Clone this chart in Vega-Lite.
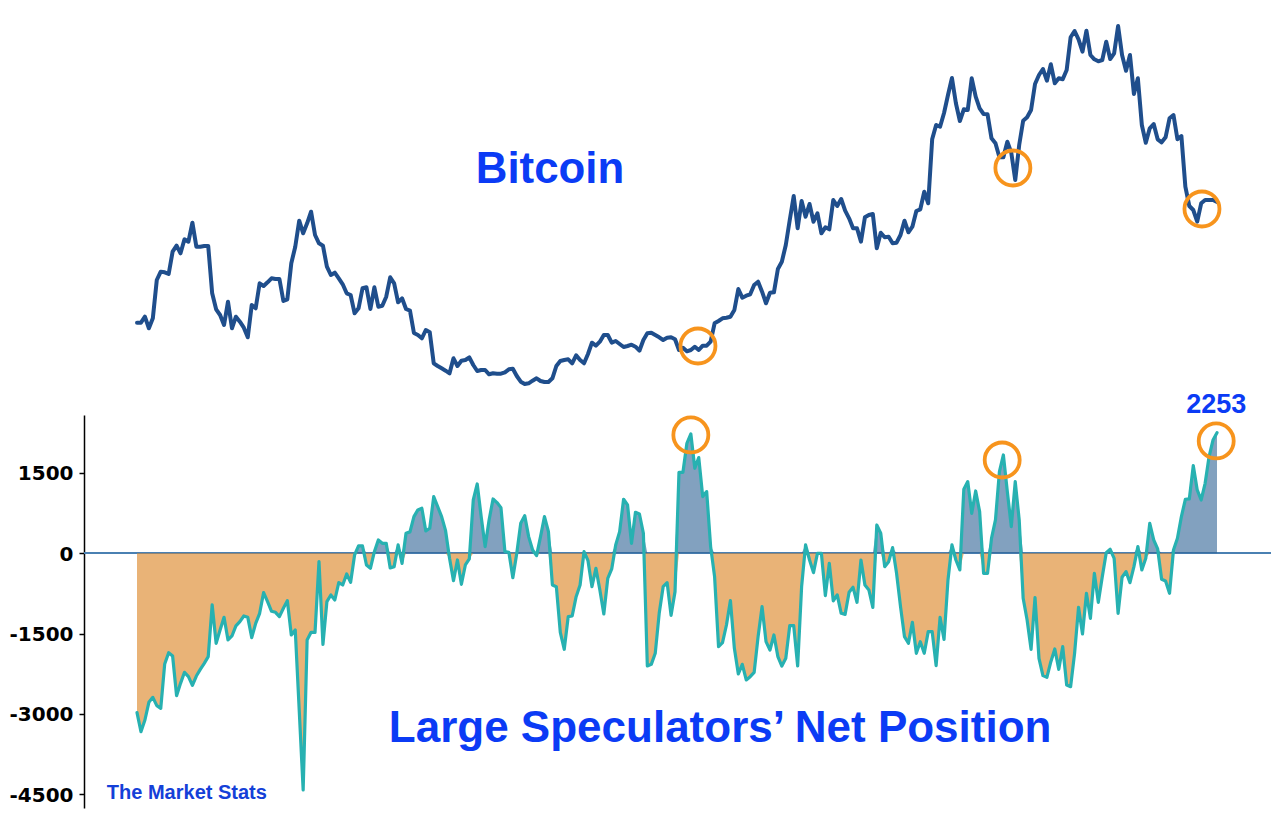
{"$schema":"https://vega.github.io/schema/vega-lite/v6.json","width":1187,"height":817,"autosize":{"type":"none"},"padding":{"left":84,"right":9,"top":0,"bottom":0},"background":"white","view":{"stroke":null},
"datasets":{"weeks":[
{"w":0,"btc":92.3,"net":-2976},{"w":1,"btc":92.3,"net":-3331},{"w":2,"btc":98.3,"net":-3113},{"w":3,"btc":86.7,"net":-2783},{"w":4,"btc":96.7,"net":-2690},{"w":5,"btc":135,"net":-2846},{"w":6,"btc":143.3,"net":-2895},{"w":7,"btc":142.7,"net":-2067},{"w":8,"btc":141,"net":-1856},{"w":9,"btc":163.3,"net":-1918},
{"w":10,"btc":169.3,"net":-2659},{"w":11,"btc":161.7,"net":-2429},{"w":12,"btc":175.7,"net":-2223},{"w":13,"btc":173.3,"net":-2304},{"w":14,"btc":192.3,"net":-2466},{"w":15,"btc":168.3,"net":-2292},{"w":16,"btc":168.3,"net":-2167},{"w":17,"btc":169,"net":-2055},{"w":18,"btc":169,"net":-1930},{"w":19,"btc":121.7,"net":-965},
{"w":20,"btc":105.7,"net":-1681},{"w":21,"btc":100,"net":-1432},{"w":22,"btc":90,"net":-1196},{"w":23,"btc":113.3,"net":-1619},{"w":24,"btc":86.7,"net":-1544},{"w":25,"btc":98.3,"net":-1357},{"w":26,"btc":93.3,"net":-1277},{"w":27,"btc":87.3,"net":-1171},{"w":28,"btc":77.7,"net":-1196},{"w":29,"btc":110,"net":-1575},
{"w":30,"btc":106.7,"net":-1308},{"w":31,"btc":131.7,"net":-1121},{"w":32,"btc":129,"net":-735},{"w":33,"btc":132.7,"net":-903},{"w":34,"btc":136.7,"net":-1083},{"w":35,"btc":136,"net":-1102},{"w":36,"btc":136,"net":-1183},{"w":37,"btc":114,"net":-1027},{"w":38,"btc":115.7,"net":-884},{"w":39,"btc":151.7,"net":-1526},
{"w":40,"btc":168.3,"net":-1432},{"w":41,"btc":194.3,"net":-2927},{"w":42,"btc":181.7,"net":-4421},{"w":43,"btc":191.7,"net":-1619},{"w":44,"btc":203.3,"net":-1476},{"w":45,"btc":180,"net":-1476},{"w":46,"btc":171.7,"net":-156},{"w":47,"btc":169.3,"net":-1700},{"w":48,"btc":148.3,"net":-903},{"w":49,"btc":140,"net":-778},
{"w":50,"btc":142.3,"net":-872},{"w":51,"btc":136.7,"net":-548},{"w":52,"btc":130.7,"net":-592},{"w":53,"btc":121.7,"net":-386},{"w":54,"btc":120,"net":-542},{"w":55,"btc":101.7,"net":-31},{"w":56,"btc":106.7,"net":137},{"w":57,"btc":126.7,"net":137},{"w":58,"btc":127.7,"net":-218},{"w":59,"btc":106,"net":-280},
{"w":60,"btc":127.7,"net":31},{"w":61,"btc":108.3,"net":249},{"w":62,"btc":109.3,"net":187},{"w":63,"btc":118.3,"net":187},{"w":64,"btc":137.7,"net":-274},{"w":65,"btc":131.7,"net":-249},{"w":66,"btc":112.7,"net":156},{"w":67,"btc":116.7,"net":-187},{"w":68,"btc":106,"net":374},{"w":69,"btc":104.3,"net":400},
{"w":70,"btc":82,"net":685},{"w":71,"btc":80,"net":810},{"w":72,"btc":76.7,"net":841},{"w":73,"btc":85,"net":417},{"w":74,"btc":82.7,"net":467},{"w":75,"btc":51.7,"net":1059},{"w":76,"btc":49,"net":872},{"w":77,"btc":46.7,"net":685},{"w":78,"btc":44.3,"net":423},{"w":79,"btc":41.7,"net":-93},
{"w":80,"btc":56.7,"net":-511},{"w":81,"btc":49,"net":-125},{"w":82,"btc":54.3,"net":-579},{"w":83,"btc":55,"net":-218},{"w":84,"btc":57.7,"net":-106},{"w":85,"btc":50,"net":996},{"w":86,"btc":44,"net":1295},{"w":87,"btc":45,"net":685},{"w":88,"btc":45,"net":125},{"w":89,"btc":40.7,"net":623},
{"w":90,"btc":41.7,"net":1015},{"w":91,"btc":41.3,"net":947},{"w":92,"btc":41.3,"net":853},{"w":93,"btc":42.7,"net":31},{"w":94,"btc":45.7,"net":19},{"w":95,"btc":46.3,"net":-455},{"w":96,"btc":39,"net":0},{"w":97,"btc":33.3,"net":560},{"w":98,"btc":31,"net":704},{"w":99,"btc":31.7,"net":311},
{"w":100,"btc":34.3,"net":62},{"w":101,"btc":36.7,"net":-44},{"w":102,"btc":34,"net":311},{"w":103,"btc":33,"net":685},{"w":104,"btc":33,"net":405},{"w":105,"btc":36.7,"net":-592},{"w":106,"btc":49,"net":-623},{"w":107,"btc":54,"net":-1476},{"w":108,"btc":55,"net":-1793},{"w":109,"btc":55.7,"net":-1183},
{"w":110,"btc":51.7,"net":-1171},{"w":111,"btc":59.7,"net":-810},{"w":112,"btc":55,"net":-592},{"w":113,"btc":51.7,"net":31},{"w":114,"btc":61,"net":-137},{"w":115,"btc":72.3,"net":-623},{"w":116,"btc":69.3,"net":-280},{"w":117,"btc":73.3,"net":-685},{"w":118,"btc":80,"net":-1133},{"w":119,"btc":80,"net":-467},
{"w":120,"btc":72.3,"net":-293},{"w":121,"btc":74,"net":156},{"w":122,"btc":71,"net":405},{"w":123,"btc":68,"net":1009},{"w":124,"btc":69,"net":903},{"w":125,"btc":70.3,"net":187},{"w":126,"btc":68.3,"net":766},{"w":127,"btc":64.3,"net":735},{"w":128,"btc":75,"net":374},{"w":129,"btc":81.7,"net":-2104},
{"w":130,"btc":82.3,"net":-2074},{"w":131,"btc":80,"net":-1868},{"w":132,"btc":77.7,"net":-1121},{"w":133,"btc":75,"net":-623},{"w":134,"btc":77.3,"net":-548},{"w":135,"btc":77.7,"net":-1158},{"w":136,"btc":75.7,"net":-716},{"w":137,"btc":65,"net":1513},{"w":138,"btc":67.3,"net":1513},{"w":139,"btc":63.7,"net":2055},
{"w":140,"btc":65,"net":2229},{"w":141,"btc":68.3,"net":1588},{"w":142,"btc":65,"net":1787},{"w":143,"btc":69.3,"net":1059},{"w":144,"btc":69.3,"net":1152},{"w":145,"btc":73.3,"net":125},{"w":146,"btc":91.7,"net":-436},{"w":147,"btc":94,"net":-1744},{"w":148,"btc":96.7,"net":-1669},{"w":149,"btc":97.3,"net":-1339},
{"w":150,"btc":98.3,"net":-884},{"w":151,"btc":105,"net":-1775},{"w":152,"btc":126,"net":-2254},{"w":153,"btc":117.3,"net":-2074},{"w":154,"btc":119.3,"net":-2366},{"w":155,"btc":120.7,"net":-2304},{"w":156,"btc":130,"net":-2223},{"w":157,"btc":133.3,"net":-1557},{"w":158,"btc":123.3,"net":-996},{"w":159,"btc":111.7,"net":-1650},
{"w":160,"btc":122.3,"net":-1806},{"w":161,"btc":122.7,"net":-1526},{"w":162,"btc":146,"net":-1930},{"w":163,"btc":153.3,"net":-2105},{"w":164,"btc":170,"net":-1961},{"w":165,"btc":195,"net":-1351},{"w":166,"btc":219,"net":-1351},{"w":167,"btc":186.7,"net":-2105},{"w":168,"btc":214,"net":-623},{"w":169,"btc":198.3,"net":156},
{"w":170,"btc":211,"net":-125},{"w":171,"btc":193.3,"net":-361},{"w":172,"btc":201.7,"net":0},{"w":173,"btc":181.7,"net":0},{"w":174,"btc":187.7,"net":-791},{"w":175,"btc":185.7,"net":-187},{"w":176,"btc":215,"net":-890},{"w":177,"btc":209,"net":-778},{"w":178,"btc":216,"net":-1121},{"w":179,"btc":204.3,"net":-1140},
{"w":180,"btc":196.7,"net":-729},{"w":181,"btc":186.7,"net":-635},{"w":182,"btc":186.7,"net":-915},{"w":183,"btc":173.3,"net":-125},{"w":184,"btc":197.7,"net":-592},{"w":185,"btc":200,"net":-685},{"w":186,"btc":201,"net":-1009},{"w":187,"btc":166.7,"net":529},{"w":188,"btc":182.3,"net":374},{"w":189,"btc":177.7,"net":-249},
{"w":190,"btc":178.3,"net":-156},{"w":191,"btc":171.7,"net":106},{"w":192,"btc":172.3,"net":-374},{"w":193,"btc":180,"net":-996},{"w":194,"btc":194.3,"net":-1557},{"w":195,"btc":182.7,"net":-1681},{"w":196,"btc":188.3,"net":-1289},{"w":197,"btc":204,"net":-1868},{"w":198,"btc":205.7,"net":-1650},{"w":199,"btc":223.3,"net":-1868},
{"w":200,"btc":211.7,"net":-1463},{"w":201,"btc":275.7,"net":-1463},{"w":202,"btc":290,"net":-2098},{"w":203,"btc":288.3,"net":-1196},{"w":204,"btc":302,"net":-1607},{"w":205,"btc":320,"net":-498},{"w":206,"btc":337,"net":156},{"w":207,"btc":311.7,"net":-125},{"w":208,"btc":294,"net":-311},{"w":209,"btc":305.7,"net":1196},
{"w":210,"btc":305,"net":1339},{"w":211,"btc":336.7,"net":747},{"w":212,"btc":318.3,"net":1164},{"w":213,"btc":306.7,"net":778},{"w":214,"btc":301,"net":-374},{"w":215,"btc":300.7,"net":-374},{"w":216,"btc":276.7,"net":280},{"w":217,"btc":271.7,"net":623},{"w":218,"btc":257.7,"net":1526},{"w":219,"btc":257.7,"net":1837},
{"w":220,"btc":273.3,"net":1152},{"w":221,"btc":262.3,"net":498},{"w":222,"btc":235,"net":1339},{"w":223,"btc":270,"net":623},{"w":224,"btc":294.3,"net":-841},{"w":225,"btc":297.7,"net":-1245},{"w":226,"btc":305,"net":-1793},{"w":227,"btc":331,"net":-828},{"w":228,"btc":340,"net":-1961},{"w":229,"btc":346,"net":-2285},
{"w":230,"btc":334.3,"net":-2316},{"w":231,"btc":350.7,"net":-2024},{"w":232,"btc":331.7,"net":-1787},{"w":233,"btc":336.7,"net":-2167},{"w":234,"btc":335.7,"net":-1744},{"w":235,"btc":345,"net":-2460},{"w":236,"btc":377.7,"net":-2491},{"w":237,"btc":384,"net":-1868},{"w":238,"btc":375.7,"net":-1009},{"w":239,"btc":363.3,"net":-1507},
{"w":240,"btc":384.3,"net":-747},{"w":241,"btc":360,"net":-1214},{"w":242,"btc":355.7,"net":-374},{"w":243,"btc":353.7,"net":-915},{"w":244,"btc":355,"net":-436},{"w":245,"btc":373.3,"net":12},{"w":246,"btc":356,"net":75},{"w":247,"btc":361.7,"net":-93},{"w":248,"btc":389,"net":-1121},{"w":249,"btc":360,"net":-448},
{"w":250,"btc":344.3,"net":-342},{"w":251,"btc":360,"net":-548},{"w":252,"btc":321,"net":-249},{"w":253,"btc":336.7,"net":125},{"w":254,"btc":290,"net":-311},{"w":255,"btc":272.3,"net":-93},{"w":256,"btc":286.7,"net":560},{"w":257,"btc":291,"net":249},{"w":258,"btc":275.7,"net":81},{"w":259,"btc":272.7,"net":-486},
{"w":260,"btc":277.7,"net":-517},{"w":261,"btc":296.7,"net":-747},{"w":262,"btc":300,"net":62},{"w":263,"btc":275.7,"net":280},{"w":264,"btc":279,"net":685},{"w":265,"btc":228.3,"net":1009},{"w":266,"btc":209,"net":1015},{"w":267,"btc":205,"net":1638},{"w":268,"btc":193.3,"net":1183},{"w":269,"btc":211.7,"net":996},
{"w":270,"btc":215,"net":1308},{"w":271,"btc":215,"net":1806},{"w":272,"btc":215,"net":2117},{"w":273,"btc":213,"net":2253}
],
"btcCircles":[{"w":141.8,"btc":69},{"w":221.4,"btc":247},{"w":269.2,"btc":206}],
"netCircles":[{"w":140,"net":2210},{"w":218.7,"net":1743},{"w":272.8,"net":2098}],
"btcLabel":[{"w":104.4,"btc":245,"label":"Bitcoin"}],
"netLabels":[{"w":147.4,"net":-3285,"label":"Large Speculators’ Net Position","size":44,"color":"#0B3BF5"},{"w":12.6,"net":-4478,"label":"The Market Stats","size":20,"color":"#1440D8"},{"w":272.8,"net":2770,"label":"2253","size":27,"color":"#0B3BF5"}]},
"layer":[
{"data":{"name":"weeks"},"mark":{"type":"rule","color":"#4A80B2","strokeWidth":1.6},"encoding":{"y":{"datum":0,"type":"quantitative","scale":{"domain":[-4757,2583],"range":[808,415],"nice":false,"zero":false},"axis":{"title":null,"values":[1500,0,-1500,-3000,-4500],"labelExpr":"datum.value + ''","grid":false,"domainColor":"#000000","domainWidth":1.5,"tickColor":"#000000","tickWidth":1.5,"tickSize":5,"labelFont":"DejaVu Sans","labelFontWeight":"bold","labelFontSize":20,"labelColor":"#000000","labelPadding":6,"labelOffset":1}}}},
{"data":{"name":"weeks"},"mark":{"type":"area","color":"#2F6294","opacity":0.6},"encoding":{"x":{"field":"w","type":"quantitative","scale":{"domain":[-13.4,286.65],"nice":false,"zero":false},"axis":null},"y":{"field":"net","type":"quantitative","scale":{"domain":[0,2583],"range":[553.3,415],"clamp":true,"nice":false,"zero":false},"axis":null},"y2":{"datum":0}}},
{"data":{"name":"weeks"},"mark":{"type":"area","color":"#DD8A2E","opacity":0.65},"encoding":{"x":{"field":"w","type":"quantitative","scale":{"domain":[-13.4,286.65],"nice":false,"zero":false},"axis":null},"y":{"field":"net","type":"quantitative","scale":{"domain":[-4757,0],"range":[808,553.3],"clamp":true,"nice":false,"zero":false},"axis":null},"y2":{"datum":0}}},
{"layer":[
{"data":{"name":"weeks"},"mark":{"type":"line","color":"#27B1B1","strokeWidth":3.2,"strokeJoin":"round","strokeCap":"round"},"encoding":{"x":{"field":"w","type":"quantitative","scale":{"domain":[-13.4,286.65],"nice":false,"zero":false},"axis":null},"y":{"field":"net","type":"quantitative","scale":{"domain":[-4757,2583],"range":[808,415],"nice":false,"zero":false},"axis":null}}},
{"data":{"name":"netCircles"},"mark":{"type":"point","shape":"circle","filled":false,"color":"#F7941D","strokeWidth":3.8,"size":1225,"opacity":1},"encoding":{"x":{"field":"w","type":"quantitative","axis":null},"y":{"field":"net","type":"quantitative","axis":null}}},
{"data":{"name":"netLabels"},"mark":{"type":"text","font":"Liberation Sans","fontWeight":"bold","align":"center","baseline":"middle"},"encoding":{"x":{"field":"w","type":"quantitative","axis":null},"y":{"field":"net","type":"quantitative","axis":null},"text":{"field":"label"},"size":{"field":"size","type":"quantitative","scale":null},"color":{"field":"color","type":"nominal","scale":null}}}
]},
{"layer":[
{"data":{"name":"weeks"},"mark":{"type":"line","color":"#1F4E8C","strokeWidth":4,"strokeJoin":"round","strokeCap":"round"},"encoding":{"x":{"field":"w","type":"quantitative","scale":{"domain":[-13.4,286.65],"nice":false,"zero":false},"axis":null},"y":{"field":"btc","type":"quantitative","scale":{"domain":[0,415],"range":[415,0],"nice":false,"zero":false},"axis":null}}},
{"data":{"name":"btcCircles"},"mark":{"type":"point","shape":"circle","filled":false,"color":"#F7941D","strokeWidth":3.8,"size":1225,"opacity":1},"encoding":{"x":{"field":"w","type":"quantitative","axis":null},"y":{"field":"btc","type":"quantitative","axis":null}}},
{"data":{"name":"btcLabel"},"mark":{"type":"text","font":"Liberation Sans","fontWeight":"bold","fontSize":43.8,"color":"#0B3BF5","align":"center","baseline":"middle"},"encoding":{"x":{"field":"w","type":"quantitative","axis":null},"y":{"field":"btc","type":"quantitative","axis":null},"text":{"field":"label"}}}
]}
],
"resolve":{"scale":{"y":"independent"}}}
